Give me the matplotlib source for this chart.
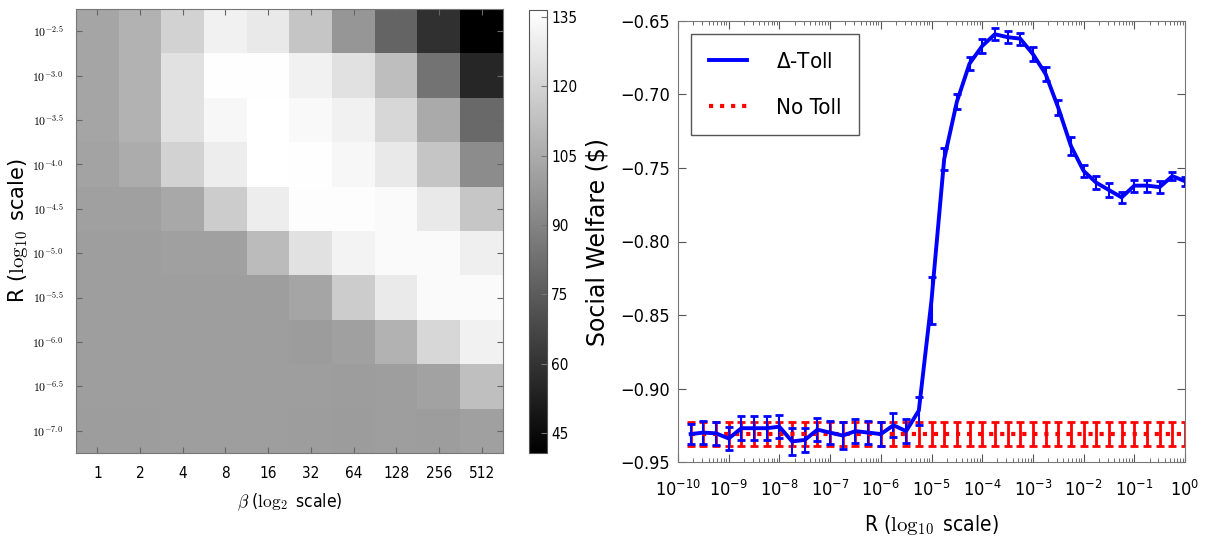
import numpy as np
import matplotlib
matplotlib.use("Agg")
import matplotlib.pyplot as plt
from matplotlib.lines import Line2D
from matplotlib.ticker import LogLocator, NullFormatter, FixedLocator

# ---------------- data ----------------
beta_labels = ["1", "2", "4", "8", "16", "32", "64", "128", "256", "512"]
r_labels = [r"$10^{-2.5}$", r"$10^{-3.0}$", r"$10^{-3.5}$", r"$10^{-4.0}$", r"$10^{-4.5}$",
            r"$10^{-5.0}$", r"$10^{-5.5}$", r"$10^{-6.0}$", r"$10^{-6.5}$", r"$10^{-7.0}$"]

row_m2_5 = [102.7, 107.6, 119.6, 130.9, 128.2, 114.7, 97.1, 78.3, 58.7, 40.7]
row_m3_0 = [102.7, 107.6, 125.2, 135.8, 135.8, 130.9, 125.2, 112.1, 83.9, 55.0]
row_m3_5 = [102.7, 107.6, 125.2, 133.5, 136.5, 133.9, 130.9, 121.5, 104.6, 80.1]
row_m4_0 = [101.9, 105.3, 119.6, 129.7, 136.5, 135.8, 133.5, 127.9, 114.7, 93.3]
row_m4_5 = [100.8, 100.8, 103.8, 117.3, 129.4, 135.4, 135.4, 134.6, 128.2, 115.1]
row_m5_0 = [100.1, 100.1, 100.8, 100.8, 111.0, 125.2, 132.0, 134.6, 134.6, 130.2]
row_m5_5 = [100.1, 100.1, 100.1, 100.1, 100.1, 102.7, 117.3, 128.6, 134.6, 134.6]
row_m6_0 = [100.1, 100.1, 100.1, 100.1, 100.1, 99.3, 100.8, 107.6, 121.2, 131.0]
row_m6_5 = [100.1, 100.1, 100.1, 100.1, 100.1, 100.1, 99.7, 100.1, 101.6, 112.5]
row_m7_0 = [99.7, 99.7, 100.1, 100.1, 100.1, 99.7, 99.3, 100.1, 99.7, 100.8]

cbar_ticks = [45, 60, 75, 90, 105, 120, 135]

log_r = [-9.75, -9.5, -9.25, -9.0, -8.75, -8.5, -8.25, -8.0, -7.75, -7.5,
         -7.25, -7.0, -6.75, -6.5, -6.25, -6.0, -5.75, -5.5, -5.25, -5.0,
         -4.75, -4.5, -4.25, -4.0, -3.75, -3.5, -3.25, -3.0, -2.75, -2.5,
         -2.25, -2.0, -1.75, -1.5, -1.25, -1.0, -0.75, -0.5, -0.25, 0.0]
delta_toll = [-0.931, -0.930, -0.9305, -0.934, -0.927, -0.927, -0.927, -0.926, -0.936, -0.935,
              -0.928, -0.930, -0.932, -0.929, -0.930, -0.931, -0.925, -0.929, -0.915, -0.840,
              -0.744, -0.705, -0.679, -0.667, -0.659, -0.661, -0.662, -0.6725, -0.686, -0.709,
              -0.735, -0.752, -0.760, -0.765, -0.770, -0.762, -0.762, -0.763, -0.7555, -0.759]
delta_err = [0.007, 0.008, 0.008, 0.008, 0.008, 0.008, 0.008, 0.008, 0.009, 0.008,
             0.008, 0.008, 0.009, 0.008, 0.008, 0.008, 0.008, 0.008, 0.0095, 0.016,
             0.0075, 0.005, 0.0045, 0.0045, 0.004, 0.004, 0.004, 0.0045, 0.0045, 0.005,
             0.006, 0.004, 0.0045, 0.005, 0.004, 0.004, 0.004, 0.004, 0.003, 0.003]
no_toll = [-0.931] * 40
no_toll_err = [0.008] * 40
x_decades = list(range(-10, 1))
y_ticks = [-0.95, -0.90, -0.85, -0.80, -0.75, -0.70, -0.65]

# ---------------- figure ----------------
plt.rcParams["font.family"] = ["DejaVu Sans"]
plt.rcParams["font.stretch"] = "condensed"
fig = plt.figure(figsize=(12.1, 5.36), dpi=100, facecolor="white")

# heatmap
ax1 = fig.add_axes([76 / 1210, 1 - 453 / 536, 427 / 1210, 444 / 536])
grid = np.array([row_m2_5, row_m3_0, row_m3_5, row_m4_0, row_m4_5,
                 row_m5_0, row_m5_5, row_m6_0, row_m6_5, row_m7_0])
im = ax1.imshow(grid, cmap="gray", interpolation="nearest", aspect="auto")
ax1.set_xticks(range(len(beta_labels)))
ax1.set_xticklabels(beta_labels, fontsize=11)
ax1.set_yticks(range(len(r_labels)))
ax1.set_yticklabels(r_labels, fontsize=8.5, math_fontfamily="cm")
ax1.tick_params(direction="in", top=True, right=True, length=4, color="#666666", pad=9)
for s in ax1.spines.values():
    s.set_color("#777777")
ax1.set_xlabel(r"$\beta$ ($\log_2$ scale)", fontsize=12.5, math_fontfamily="cm", labelpad=8)
ax1.set_ylabel(r"R ($\log_{10}$ scale)", fontsize=15, math_fontfamily="cm",
               fontstretch="normal")
ax1.yaxis.set_label_coords(-0.108, 0.5)

cax = fig.add_axes([529 / 1210, 1 - 453 / 536, 18 / 1210, 443 / 536])
cb = fig.colorbar(im, cax=cax, ticks=cbar_ticks)
cb.ax.tick_params(labelsize=11, direction="in", length=4, color="#777777", pad=3)
cb.outline.set_edgecolor("#555555")

# line plot
ax2 = fig.add_axes([678 / 1210, 1 - 462 / 536, 507 / 1210, 441 / 536])
R = [10.0 ** v for v in log_r]
ax2.errorbar(R, no_toll, yerr=no_toll_err, color="red", linestyle=":", lw=3,
             elinewidth=2, capsize=3, capthick=2)
ax2.errorbar(R, delta_toll, yerr=delta_err, color="blue", linestyle="-", lw=2.8,
             elinewidth=1.5, capsize=3, capthick=2)
ax2.set_xscale("log")
ax2.set_xlim(1e-10, 1e0)
ax2.set_ylim(-0.95, -0.65)
ax2.xaxis.set_major_locator(FixedLocator([10.0 ** k for k in x_decades]))
ax2.xaxis.set_minor_locator(LogLocator(base=10, subs=np.arange(2, 10), numticks=100))
ax2.xaxis.set_minor_formatter(NullFormatter())
ax2.set_yticks(y_ticks)
ax2.tick_params(which="both", direction="in", top=True, right=True, labelsize=13, color="#555555")
ax2.tick_params(which="major", length=6)
ax2.tick_params(axis="y", which="major", pad=5.5)
ax2.tick_params(axis="x", which="major", pad=13)
ax2.tick_params(which="minor", length=3)
for s in ax2.spines.values():
    s.set_color("#777777")
ax2.set_xlabel(r"R ($\log_{10}$ scale)", fontsize=15, math_fontfamily="cm", labelpad=9)
ax2.set_ylabel("Social Welfare ($)", fontsize=17, fontstretch="normal")
ax2.yaxis.set_label_coords(-0.136, 0.5)

handles = [Line2D([], [], color="blue", lw=2.8),
           Line2D([], [], color="red", lw=3, linestyle=":")]
labels = [r"$\Delta$-Toll", "No Toll"]
leg = ax2.legend(handles, labels, loc="upper left", fontsize=16, handlelength=1.7,
                 handletextpad=1.3, borderpad=0.8, labelspacing=1.15, borderaxespad=0.6,
                 fancybox=False, framealpha=1)
leg.get_frame().set_edgecolor("#555555")

fig.savefig("out.png", dpi=100, facecolor="white")
